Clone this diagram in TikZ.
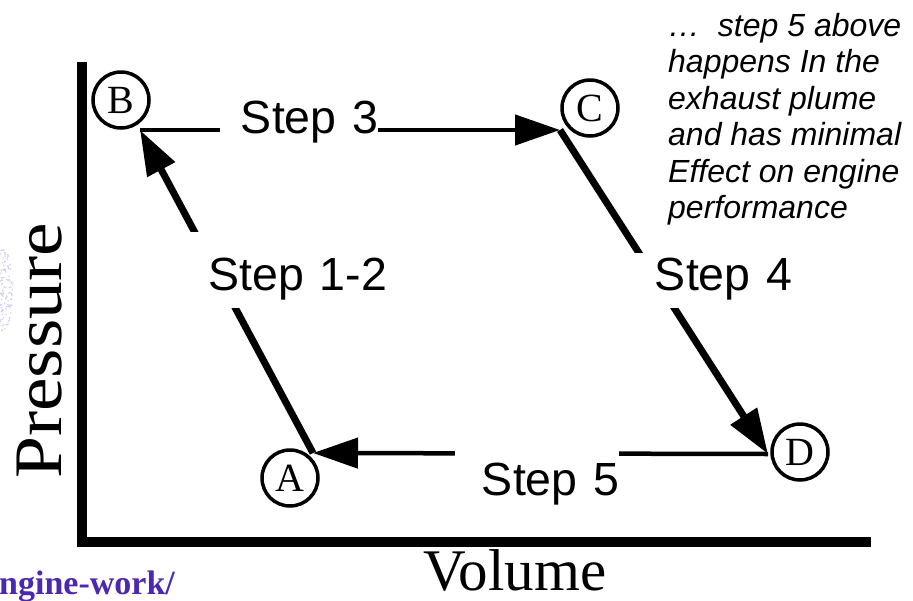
\documentclass[tikz,border=0pt]{standalone}
\usepackage{fontspec}
\setmainfont{Liberation Serif}
\newfontfamily\arialf{Liberation Sans}
\usetikzlibrary{arrows.meta}
\definecolor{urlpurple}{RGB}{75,40,175}
\definecolor{logoblue}{RGB}{190,190,245}
\begin{document}
\begin{tikzpicture}[x=1pt,y=-1pt,
  axisline/.style={line width=10pt, line join=miter, line cap=butt},
  corner/.style={circle, draw, line width=3.5pt, minimum size=56pt, inner sep=0pt,
    font=\fontsize{40}{40}\selectfont},
  flatarrow/.style={line width=4.5pt, -{Triangle[length=45pt,width=30pt]}},
  slantarrow/.style={line width=7pt, -{Triangle[length=45pt,width=30pt]}},
  steplabel/.style={fill=white, inner sep=0pt, align=right, anchor=base,
    font=\arialf\fontsize{46.5}{50}\selectfont},
  axislabel/.style={inner sep=0pt, anchor=base},
]
\useasboundingbox (0,0) rectangle (913,600);

% faint logo fragment at the left edge
\pgfmathsetseed{7}
\foreach \k in {1,...,110}{
  \pgfmathsetmacro{\yy}{290+42*rand}
  \pgfmathsetmacro{\ww}{13*sqrt(max(0,1-((\yy-290)/44)^2))}
  \pgfmathsetmacro{\xx}{\ww*rnd}
  \fill[logoblue, opacity=0.7] (\xx,\yy) circle (0.9pt);
}

% axes
\coordinate (ytop) at (82,62);
\coordinate (orig) at (82,541.5);
\coordinate (xend) at (871,541.5);
\draw[axisline] (ytop) -- (orig) -- (xend);

% cycle corners
\coordinate (pA) at (313,453);
\coordinate (pB) at (140,130);
\coordinate (pC) at (560,130);
\coordinate (pD) at (768,454);

\draw[flatarrow] (pB) -- (pC);
\draw[slantarrow] (pC) -- (pD);
\draw[flatarrow] (pD) -- (pA);
\draw[slantarrow] (pA) -- (pB);

% step labels (white boxes break the lines)
\node[steplabel, text width=158pt, text height=40pt, text depth=12pt] (s3) at (299,133) {Step 3};
\node[steplabel, text width=200pt, text height=58pt, text depth=18pt] (s12) at (287,290) {Step 1-2};
\node[steplabel, text width=160pt, text height=37pt, text depth=18pt] (s4) at (712,290) {Step 4};
\node[steplabel, text width=164pt, text height=47pt, text depth=12pt] (s5) at (537,495) {Step 5};

% corner circles
\node[corner] (A) at (290,478) {A};
\node[corner] (B) at (121,100) {B};
\node[corner] (C) at (590,108) {C};
\node[corner] (D) at (800,452) {D};

% axis labels
\node[inner sep=0pt, rotate=90, font=\fontsize{68}{68}\selectfont] (press) at (40,351)
  {\scalebox{1.11}[1]{Pressure}};
\node[axislabel, font=\fontsize{59}{59}\selectfont] (vol) at (515,590) {Volume};

% note
\node[inner sep=0pt, anchor=north west, align=left,
  font=\arialf\itshape\fontsize{32}{36.5}\selectfont] (note) at (668,13)
  {…\ \ step 5 above\\happens In the\\exhaust plume\\and has minimal\\Effect on engine\\performance};

% url fragment
\node[inner sep=0pt, anchor=base west, text=urlpurple,
  font=\bfseries\fontsize{34}{34}\selectfont] (url) at (-1,594) {ngine-work/};
\end{tikzpicture}
\end{document}
